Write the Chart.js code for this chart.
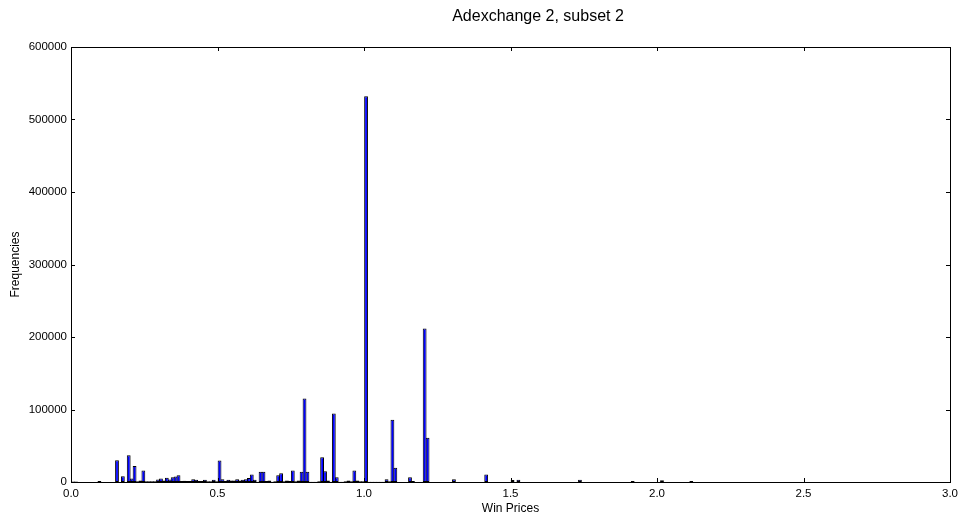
<!DOCTYPE html>
<html><head><meta charset="utf-8">
<script src="https://cdn.jsdelivr.net/npm/chart.js@4/dist/chart.umd.min.js"></script>
<style>html,body{margin:0;padding:0;background:#fff;}#wrap{width:963px;height:519px;}</style>
</head><body><div id="wrap"><canvas id="c" width="963" height="519"></canvas></div>
<script>
const chartTitle = "Adexchange 2, subset 2";
const xAxisLabel = "Win Prices";
const yAxisLabel = "Frequencies";
const xTickValues = [0, 0.5, 1.0, 1.5, 2.0, 2.5, 3.0];
const yTickValues = [0, 100000, 200000, 300000, 400000, 500000, 600000];

// histogram bins (centre of each 0.01-wide bin) with visible counts
const winPrices = [
  0.007, 0.017, 0.097, 0.157, 0.177, 0.197, 0.207, 0.217, 0.227, 0.237,
  0.247, 0.257, 0.267, 0.277, 0.287, 0.297, 0.307, 0.317, 0.327, 0.337,
  0.347, 0.357, 0.367, 0.377, 0.387, 0.397, 0.407, 0.417, 0.427, 0.437,
  0.447, 0.457, 0.467, 0.477, 0.487, 0.497, 0.507, 0.517, 0.527, 0.537,
  0.547, 0.557, 0.567, 0.577, 0.587, 0.597, 0.607, 0.617, 0.627, 0.637,
  0.647, 0.657, 0.667, 0.677, 0.687, 0.697, 0.707, 0.717, 0.727, 0.737,
  0.747, 0.757, 0.767, 0.777, 0.787, 0.797, 0.807, 0.817, 0.827, 0.837,
  0.847, 0.857, 0.867, 0.877, 0.887, 0.897, 0.907, 0.917, 0.927, 0.937,
  0.947, 0.957, 0.967, 0.977, 0.987, 0.997, 1.007, 1.017, 1.027, 1.037,
  1.047, 1.057, 1.067, 1.077, 1.087, 1.097, 1.107, 1.157, 1.167, 1.207,
  1.217, 1.307, 1.417, 1.507, 1.527, 1.737, 1.917, 2.017, 2.117
];
const frequencies = [
  700, 700, 1500, 30000, 8000, 37000, 4700, 22000, 1000, 2000,
  15700, 1000, 1200, 1200, 1000, 3500, 4700, 2000, 6000, 3500,
  6500, 7500, 9300, 1500, 1800, 1500, 1500, 3700, 3000, 1500,
  1500, 3000, 1000, 1000, 3000, 1000, 29500, 3700, 1500, 3000,
  2000, 2000, 3700, 2000, 3000, 3700, 5600, 10200, 3000, 500,
  14000, 14000, 1500, 2000, 500, 1000, 9300, 12000, 1000, 2000,
  1500, 15700, 1000, 2000, 14000, 115200, 14000, 500, 500, 500,
  1000, 34100, 14800, 2000, 500, 94500, 6500, 500, 500, 1000,
  2000, 1000, 15700, 2000, 1000, 1000, 532000, 300, 300, 300,
  300, 300, 500, 3700, 1000, 85700, 19500, 6500, 1500, 211800,
  60900, 3700, 10200, 2900, 3000, 3000, 1500, 2500, 1500
];

const FONT = '"Liberation Sans", Arial, sans-serif';

const framePlugin = {
  id: 'frame',
  afterDatasetsDraw(chart) {
    const { ctx, chartArea: a, scales: { x, y } } = chart;
    ctx.save();
    ctx.strokeStyle = '#000';
    ctx.lineWidth = 1;
    ctx.beginPath();
    x.ticks.forEach(t => {
      const px = Math.round(x.getPixelForValue(t.value)) + 0.5;
      ctx.moveTo(px, a.bottom); ctx.lineTo(px, a.bottom - 4);
      ctx.moveTo(px, a.top); ctx.lineTo(px, a.top + 4);
    });
    y.ticks.forEach(t => {
      const py = Math.round(y.getPixelForValue(t.value)) + 0.5;
      ctx.moveTo(a.left, py); ctx.lineTo(a.left + 4, py);
      ctx.moveTo(a.right, py); ctx.lineTo(a.right - 4, py);
    });
    ctx.stroke();
    ctx.strokeRect(Math.round(a.left) + 0.5, Math.round(a.top) + 0.5,
                   Math.round(a.right - a.left), Math.round(a.bottom - a.top));
    ctx.fillStyle = '#000';
    ctx.font = '16px ' + FONT;
    ctx.textAlign = 'center';
    ctx.textBaseline = 'middle';
    ctx.fillText(chartTitle, 538, 17);
    ctx.restore();
  }
};

new Chart(document.getElementById('c'), {
  type: 'bar',
  data: {
    datasets: [{
      data: winPrices.map((p, i) => ({ x: p, y: frequencies[i] })),
      backgroundColor: '#0000ff',
      borderColor: '#000000',
      borderWidth: 1,
      borderSkipped: false,
      barPercentage: 1.3,
      categoryPercentage: 1.0
    }]
  },
  options: {
    responsive: false,
    animation: false,
    layout: { padding: { top: 47, right: 11, left: 0, bottom: 0 } },
    plugins: { legend: { display: false }, tooltip: { enabled: false }, title: { display: false } },
    scales: {
      x: {
        type: 'linear', min: 0, max: 3, offset: false,
        grid: { display: false, offset: false, drawTicks: false, tickLength: 0 },
        border: { display: false },
        afterBuildTicks: s => { s.ticks = xTickValues.map(v => ({ value: v })); },
        afterFit: s => { s.height = 37; },
        ticks: { color: '#000', font: { family: FONT, size: 11.5 }, padding: 5, maxRotation: 0,
                 callback: v => Number(v).toFixed(1) },
        title: { display: true, text: xAxisLabel, color: '#000', font: { family: FONT, size: 12 }, padding: { top: 0, bottom: 3 } }
      },
      y: {
        type: 'linear', min: 0, max: 600000,
        grid: { display: false, drawTicks: false, tickLength: 0 },
        border: { display: false },
        afterBuildTicks: s => { s.ticks = yTickValues.map(v => ({ value: v })); },
        afterFit: s => { s.width = 71; },
        ticks: { color: '#000', font: { family: FONT, size: 11.5 }, padding: 4,
                 callback: v => String(v) },
        title: { display: true, text: yAxisLabel, color: '#000', font: { family: FONT, size: 12 }, padding: { top: 8, bottom: 0 } }
      }
    }
  },
  plugins: [framePlugin]
});
</script>
</body></html>
